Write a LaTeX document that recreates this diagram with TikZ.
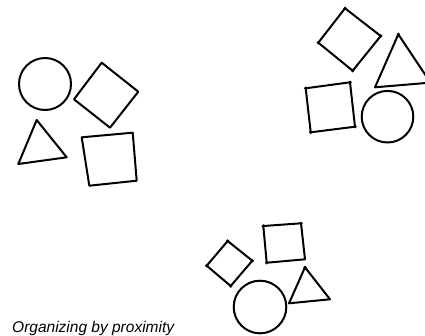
\documentclass[tikz,border=0pt]{standalone}
\usepackage{fontspec}
\newfontfamily\handfont{Liberation Sans}
\tikzset{
  shape line/.style={line width=2pt,line join=round,line cap=round},
  corner dot/.style={fill=black},
}
\begin{document}
\begin{tikzpicture}[x=1pt,y=-1pt]
    \useasboundingbox (0,0) rectangle (425,335);
    % 左上一组
    \draw[shape line] (45,84) circle (26);
    \draw[shape line] (101.7,62.7) -- (138.3,91.7) -- (110,127.7) -- (74,99.3) -- cycle;
    \draw[shape line] (36.7,120) -- (66.7,157.3) -- (18.3,164) -- cycle;
    \draw[shape line] (81.7,137.3) -- (132.7,132.7) -- (136.7,180.7) -- (89.3,185.7) -- cycle;
    % 右上一组
    \draw[shape line] (345,8.3) -- (380.7,36) -- (352.7,70.7) -- (318.3,42.7) -- cycle;
    \draw[shape line] (398.3,34.3) -- (430.5,82.6) -- (375,87.3) -- cycle;
    \draw[shape line] (305.7,88.3) -- (350,82.3) -- (355,126.7) -- (310.7,132.3) -- cycle;
    \draw[shape line] (387.5,116.7) circle (25.8);
    % 下方一组
    \draw[shape line] (263.3,226) -- (301,223.3) -- (305,259.3) -- (266.7,262.7) -- cycle;
    \draw[shape line] (227.7,241) -- (252.3,260.7) -- (230.7,286) -- (206.7,265.7) -- cycle;
    \draw[shape line] (305,267.3) -- (330,299.3) -- (289,303.3) -- cycle;
    \draw[shape line] (260,307) circle (26.3);
    % 角点墨迹
    \foreach \p in {(345,8.3),(380.7,36),(352.7,70.7),(318.3,42.7),
                    (305.7,88.3),(350,82.3),(355,126.7),(310.7,132.3),(398.3,34.3),
                    (263.3,226),(301,223.3),(266.7,262.7),
                    (227.7,241),(252.3,260.7),(230.7,286),(206.7,265.7),(305,267.3)}
      \fill[corner dot] \p circle (1.8);
    % 标题
    \node[anchor=base west,inner sep=0pt] (caption) at (12,332)
      {\handfont\itshape\fontsize{15.5}{17}\selectfont Organizing by proximity};
  \end{tikzpicture}
\end{document}
